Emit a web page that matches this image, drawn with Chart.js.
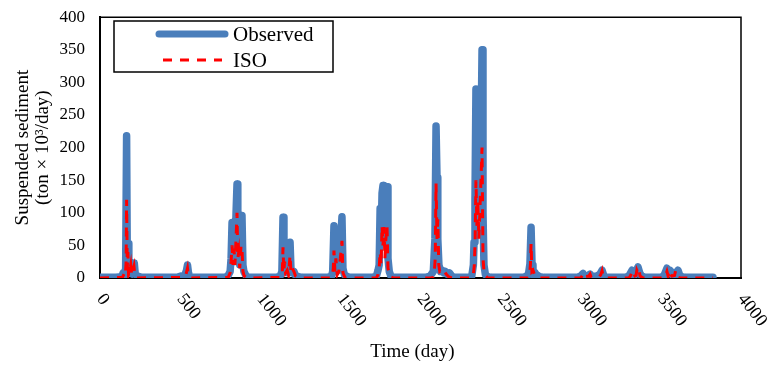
<!DOCTYPE html>
<html>
<head>
<meta charset="utf-8">
<script src="https://cdn.jsdelivr.net/npm/chart.js@4"></script>
<style>
html,body{margin:0;padding:0;background:#fff;}
#wrap{width:768px;height:366px;position:relative;}
</style>
</head>
<body>
<div id="wrap"><canvas id="c" width="768" height="366"></canvas></div>
<script>
// ---- Data ----
const obsDays = [0,100,135,145,155,160,166,170,175,180,186,200,214,220,235,260,
 480,505,515,530,540,546,552,560,580,
 780,800,812,818,824,830,836,842,849,855,860,866,872,880,886,892,898,910,925,
 1100,1125,1135,1142,1148,1155,1162,1170,1180,1186,1192,1200,1210,1220,1240,1260,
 1420,1445,1452,1460,1466,1472,1478,1490,1500,1510,1516,1525,1545,1560,
 1700,1725,1735,1742,1748,1754,1760,1766,1772,1778,1784,1791,1797,1805,1815,1830,
 2030,2060,2080,2090,2097,2103,2108,2115,2125,2135,2145,2155,2165,2180,2195,2210,
 2300,2320,2330,2334,2340,2346,2352,2358,2364,2370,2376,2384,2390,2396,2405,2420,2440,
 2640,2665,2675,2683,2690,2696,2702,2712,2720,2730,2745,2770,
 2980,3000,3014,3025,3040,3058,3070,3100,3120,3133,3145,3160,
 3280,3300,3320,3335,3348,3357,3368,3380,3400,
 3500,3520,3538,3548,3557,3570,3585,3595,3607,3618,3630,3650,3825];
const obsVals = [1,1,2,8,4,15,218,40,53,14,8,6,23,6,3,1,
 1,3,2,5,12,20,8,2,1,
 1,4,10,30,85,25,50,30,100,144,40,55,20,60,96,20,10,4,1,
 1,3,10,93,20,40,15,8,15,55,12,8,10,4,2,1,
 1,3,10,80,20,40,10,15,50,94,15,5,2,1,
 1,3,12,20,107,60,130,142,90,120,100,140,30,10,3,1,
 1,3,10,60,233,154,60,20,10,12,8,10,6,8,3,1,
 1,3,20,55,120,290,150,200,120,250,180,350,100,20,5,2,1,
 1,3,8,22,78,20,5,9,6,4,2,1,
 1,3,7,2,3,6,2,3,6,12,3,1,
 1,3,12,4,10,17,8,3,1,
 1,4,15,8,12,5,8,4,12,4,2,1,1];

const isoDays = [0,140,150,158,163,166,170,174,178,185,192,198,212,218,230,
 520,535,546,552,570,
 800,812,818,824,830,836,842,849,855,860,866,872,880,886,892,900,920,
 1130,1138,1142,1147,1152,1158,1168,1176,1186,1192,1200,1210,1220,1240,
 1440,1450,1456,1460,1466,1472,1480,1490,1500,1510,1516,1530,
 1725,1735,1742,1748,1754,1760,1766,1772,1778,1784,1791,1797,1810,1830,
 2075,2085,2092,2097,2103,2108,2114,2120,2130,2140,2150,2160,2175,2195,
 2320,2330,2336,2341,2346,2352,2358,2364,2370,2376,2384,2390,2398,2420,
 2670,2680,2686,2690,2695,2702,2710,2720,2740,
 3000,3010,3014,3020,3050,3058,3065,3115,3125,3133,3140,3160,
 3300,3310,3320,3328,3345,3350,3357,3363,3370,3390,
 3520,3530,3538,3545,3552,3560,3568,3585,3592,3600,3620,3825];
const isoVals = [0,1,6,3,25,120,15,40,5,10,20,4,18,3,0,
 1,4,15,3,0,
 1,8,25,50,20,45,20,60,100,30,40,15,50,45,10,3,0,
 1,10,47,10,25,8,12,5,35,8,15,10,3,0,
 0,2,15,42,10,30,5,10,30,57,8,0,
 0,5,15,40,20,80,50,78,30,60,80,15,2,0,
 0,5,30,145,60,90,20,10,12,8,10,6,2,0,
 0,5,20,60,150,80,120,60,100,140,200,30,5,0,
 0,3,20,53,10,12,6,3,0,
 0,4,7,2,3,6,1,2,5,11,2,0,
 0,3,10,2,4,12,8,13,3,0,
 0,4,10,3,12,6,3,4,11,2,0,0];

const yTicks = [0,50,100,150,200,250,300,350,400];
const xTickValues = [0,500,1000,1500,2000,2500,3000,3500,4000];
const xTickLabels = ['0','500','1000','1500','2000','2500','3000','3500','4000'];
const seriesNames = ['Observed','ISO'];
const xTitle = 'Time (day)';
const yTitle = ['Suspended sediment','(ton × 10³/day)'];

const SERIF = '"Liberation Serif","Times New Roman",serif';
const BLUE = '#4A7EBB';
const RED = '#FF0000';

const obsData = obsDays.map((d,i)=>({x:d,y:obsVals[i]}));
const isoData = isoDays.map((d,i)=>({x:d,y:isoVals[i]}));

const decor = {
  id:'decor',
  beforeDatasetsDraw(chart){
    const {ctx, chartArea:a} = chart;
    ctx.save();
    ctx.strokeStyle='#000'; ctx.lineWidth=1.5;
    ctx.beginPath();
    ctx.moveTo(a.left, a.top); ctx.lineTo(a.right, a.top); ctx.lineTo(a.right, a.bottom);
    ctx.stroke();
    ctx.restore();
  },
  afterDraw(chart){
    const {ctx, chartArea:a} = chart;
    const xs = chart.scales.x;
    ctx.save();
    // x tick labels rotated clockwise
    ctx.font = '18px '+SERIF; ctx.fillStyle='#000';
    xTickValues.forEach((v,i)=>{
      const px = xs.getPixelForValue(v);
      ctx.save();
      ctx.translate(px, a.bottom+18);
      ctx.rotate(52*Math.PI/180);
      ctx.textAlign='left'; ctx.textBaseline='middle';
      ctx.fillText(xTickLabels[i],0,0);
      ctx.restore();
    });
    // x title
    ctx.font = '19px '+SERIF; ctx.textAlign='center'; ctx.textBaseline='middle';
    ctx.fillText(xTitle, (a.left+a.right)/2 - 8, 352);
    // legend
    const lx=114, ly=21, lw=219, lh=51;
    ctx.fillStyle='#fff'; ctx.fillRect(lx,ly,lw,lh);
    ctx.strokeStyle='#000'; ctx.lineWidth=1.5; ctx.strokeRect(lx,ly,lw,lh);
    ctx.lineCap='round'; ctx.strokeStyle=BLUE; ctx.lineWidth=7;
    ctx.beginPath(); ctx.moveTo(159,34); ctx.lineTo(225,34); ctx.stroke();
    ctx.lineCap='butt'; ctx.strokeStyle=RED; ctx.lineWidth=3; ctx.setLineDash([9,8]);
    ctx.beginPath(); ctx.moveTo(163,60); ctx.lineTo(222,60); ctx.stroke();
    ctx.setLineDash([]);
    ctx.fillStyle='#000'; ctx.font='21px '+SERIF; ctx.textAlign='left'; ctx.textBaseline='middle';
    ctx.fillText(seriesNames[0], 233, 35);
    ctx.fillText(seriesNames[1], 233, 61);
    ctx.restore();
  }
};

new Chart(document.getElementById('c'), {
  type:'line',
  data:{
    datasets:[
      {label:seriesNames[0], data:obsData, borderColor:BLUE, backgroundColor:BLUE, borderWidth:7.5,
       pointRadius:0, tension:0, borderJoinStyle:'round', borderCapStyle:'round', fill:false, order:2},
      {label:seriesNames[1], data:isoData, borderColor:RED, backgroundColor:RED, borderWidth:3,
       borderDash:[9,8], pointRadius:0, tension:0, fill:false, order:1}
    ]
  },
  options:{
    responsive:false, animation:false, devicePixelRatio:1,
    layout:{padding:{left:0,right:27,top:5,bottom:0}},
    plugins:{legend:{display:false}, tooltip:{enabled:false}},
    scales:{
      x:{type:'linear', min:0, max:4000,
         ticks:{display:false, stepSize:500},
         grid:{display:false},
         border:{display:true, color:'#000', width:2},
         afterFit(s){ s.height = 88; }},
      y:{min:0, max:400,
         afterBuildTicks(s){ s.ticks = yTicks.map(v=>({value:v})); },
         ticks:{font:{family:SERIF, size:17}, color:'#000', padding:7},
         grid:{display:false},
         border:{display:true, color:'#000', width:2},
         title:{display:true, text:yTitle, color:'#000', font:{family:SERIF, size:19, lineHeight:1.05}, padding:{top:13,bottom:0}},
         afterFit(s){ s.width = 100; }}
    }
  },
  plugins:[decor]
});
</script>
</body>
</html>
